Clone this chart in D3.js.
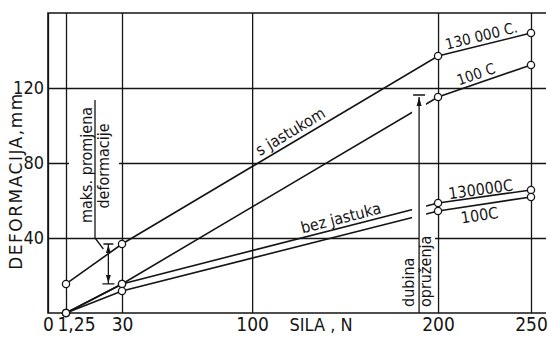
<!DOCTYPE html>
<html>
<head>
<meta charset="utf-8">
<script src="https://cdn.jsdelivr.net/npm/d3@7"></script>
<style>
body { margin: 0; background: #fff; }
svg text { font-family: "Liberation Sans Narrow", "DejaVu Sans Condensed", sans-serif; fill: #151515; }
.ann { font-family: "DejaVu Sans Condensed", "DejaVu Sans", sans-serif; }
</style>
</head>
<body>
<svg width="548" height="337"></svg>
<script>
// values
var xTicks = [0, 1.25, 30, 100, 200, 250];
var xTickLabels = ["0", "1,25", "30", "100", "200", "250"];
var yTicks = [40, 80, 120];

var sila = [1.25, 30, 200, 250];                 // SILA, N
var sJastukom130000 = [15.5, 36.8, 137.1, 149.3]; // deformacija, mm
var sJastukom100    = [0, 15.5, 115.2, 132.3];
var bezJastuka130000 = [0, 15.5, 58.7, 65.6];
var bezJastuka100    = [0, 11.7, 54.4, 61.9];

var maksSila = 23;       // where the "maks. promjena" dimension sits
var dubinaSila = 189.8;  // where the "dubina opruzenja" arrow sits

var svg = d3.select("svg");
var LEFT = 48, RIGHT = 546, TOP = 13, BOTTOM = 313;
var INK = "#151515";

// the drawing's x axis is not uniform near the origin
var x = d3.scaleLinear().domain([0, 1.25, 30, 250]).range([LEFT, 66, 122, 531]);
var y = d3.scaleLinear().domain([0, 160]).range([BOTTOM, TOP]);

// grid + tick labels
var gx = svg.append("g")
    .attr("transform", "translate(0," + BOTTOM + ")")
    .call(d3.axisBottom(x).tickValues(xTicks).tickSize(-(BOTTOM - TOP)).tickPadding(4)
        .tickFormat(function(d, i) { return xTickLabels[i]; }));
gx.select(".domain").remove();
gx.selectAll("line").attr("stroke", INK).attr("stroke-width", 1.3);
gx.selectAll("text").attr("font-size", 19).attr("fill", INK)
    .attr("dx", function(d) { return d == 1.25 ? 10 : 0; });

var gy = svg.append("g")
    .attr("transform", "translate(" + LEFT + ",0)")
    .call(d3.axisLeft(y).tickValues(yTicks).tickSize(-(RIGHT - LEFT)).tickPadding(4));
gy.select(".domain").remove();
gy.selectAll("line").attr("stroke", INK).attr("stroke-width", 1.3);
gy.selectAll("text").attr("font-size", 18).attr("fill", INK);

// frame
svg.append("path")
    .attr("d", "M" + RIGHT + "," + TOP + "H" + LEFT + "V" + BOTTOM + "H" + RIGHT)
    .attr("fill", "none").attr("stroke", INK).attr("stroke-width", 1.6);

// axis titles
svg.append("text")
    .attr("transform", "translate(22,181) rotate(-90)")
    .attr("text-anchor", "middle").attr("font-size", 17)
    .attr("letter-spacing", 1.5)
    .style("font-family", "'DejaVu Sans', sans-serif")
    .text("DEFORMACIJA,mm");
svg.append("text")
    .attr("x", 321).attr("y", 331)
    .attr("text-anchor", "middle").attr("font-size", 18)
    .text("SILA , N");

// white boxes behind the rotated notes
svg.append("rect").attr("x", 69).attr("y", 92).attr("width", 50).attr("height", 142).attr("fill", "#fff");
svg.append("rect").attr("x", 400).attr("y", 245).attr("width", 34).attr("height", 66).attr("fill", "#fff");
svg.append("rect").attr("x", 419).attr("y", 222).attr("width", 16).attr("height", 30).attr("fill", "#fff");

// mask to open a gap in the curves where the arrow passes
var defs = svg.append("defs");
var mask = defs.append("mask").attr("id", "gap");
mask.append("rect").attr("width", 548).attr("height", 337).attr("fill", "#fff");
mask.append("rect")
    .attr("x", x(dubinaSila) - 7).attr("y", y(sJastukom100[2]) - 5)
    .attr("width", 14).attr("height", BOTTOM - y(sJastukom100[2]) + 5)
    .attr("fill", "#000");

var series = [sJastukom130000, sJastukom100, bezJastuka130000, bezJastuka100];
var line = d3.line()
    .x(function(d, i) { return x(sila[i]); })
    .y(function(d) { return y(d); });

var curves = svg.append("g").attr("mask", "url(#gap)");
curves.selectAll("path")
    .data(series)
    .enter().append("path")
    .attr("d", line)
    .attr("fill", "none").attr("stroke", INK).attr("stroke-width", 1.6);

series.forEach(function(s) {
    svg.append("g").selectAll("circle")
        .data(s)
        .enter().append("circle")
        .attr("cx", function(d, i) { return x(sila[i]); })
        .attr("cy", function(d) { return y(d); })
        .attr("r", 3.6)
        .attr("fill", "#fff").attr("stroke", INK).attr("stroke-width", 1.3);
});

// labels laid along a segment of a curve
function alongLabel(s, i, t, off, txt, size) {
    var x0 = x(sila[i]), y0 = y(s[i]), x1 = x(sila[i + 1]), y1 = y(s[i + 1]);
    var px = x0 + (x1 - x0) * t, py = y0 + (y1 - y0) * t;
    var ang = Math.atan2(y1 - y0, x1 - x0) * 180 / Math.PI;
    svg.append("text")
        .attr("class", "ann")
        .attr("transform", "translate(" + px + "," + py + ") rotate(" + ang + ")")
        .attr("y", off)
        .attr("text-anchor", "middle").attr("font-size", size)
        .text(txt);
}
alongLabel(sJastukom130000, 1, 0.55, -5, "s jastukom", 16);
alongLabel(bezJastuka130000, 1, 0.70, -4, "bez jastuka", 16);
alongLabel(sJastukom130000, 2, 0.49, -4, "130 000 C.", 15);
alongLabel(sJastukom100, 2, 0.44, -4, "100 C", 15);
alongLabel(bezJastuka130000, 2, 0.47, -2, "130000C", 16);
alongLabel(bezJastuka100, 2, 0.43, 16, "100C", 16);

// "maks. promjena deformacije" note with dimension line
svg.append("text").attr("class", "ann")
    .attr("transform", "translate(91.5,165) rotate(-90)")
    .attr("text-anchor", "middle").attr("font-size", 16)
    .text("maks. promjena");
svg.append("text").attr("class", "ann")
    .attr("transform", "translate(108.5,166) rotate(-90)")
    .attr("text-anchor", "middle").attr("font-size", 16)
    .text("deformacije");

var dx = x(maksSila), dTop = y(sJastukom130000[1]), dBot = y(sJastukom130000[0]);
svg.append("path")
    .attr("d", "M95,100V" + y(40) + "L" + (dx - 5) + "," + (y(40) + 11))
    .attr("fill", "none").attr("stroke", INK).attr("stroke-width", 1.3);
svg.append("path")
    .attr("d", "M" + (dx - 5) + "," + dTop + "H" + (dx + 5) +
        "M" + dx + "," + dTop + "V" + dBot +
        "M" + (dx - 6) + "," + dBot + "H" + (dx + 6))
    .attr("fill", "none").attr("stroke", INK).attr("stroke-width", 1.3);
svg.append("path")
    .attr("d", "M" + dx + "," + (dTop + 1) + "l-2.5,8h5z" +
        "M" + dx + "," + (dBot - 1) + "l-2.5,-8h5z")
    .attr("fill", INK);

// "dubina opruzenja" arrow
var ax = x(dubinaSila), aTop = y(sJastukom100[2]);
svg.append("path")
    .attr("d", "M" + ax + "," + BOTTOM + "V" + aTop + "M" + (ax - 6) + "," + (aTop - 2) + "H" + (ax + 6))
    .attr("fill", "none").attr("stroke", INK).attr("stroke-width", 1.3);
svg.append("path")
    .attr("d", "M" + ax + "," + aTop + "l-2.5,9h5z")
    .attr("fill", INK);
svg.append("text").attr("class", "ann")
    .attr("transform", "translate(413.5,307) rotate(-90)")
    .attr("font-size", 16)
    .text("dubina");
svg.append("text").attr("class", "ann")
    .attr("transform", "translate(430.5,307) rotate(-90)")
    .attr("font-size", 16)
    .text("opruženja");
</script>
</body>
</html>
